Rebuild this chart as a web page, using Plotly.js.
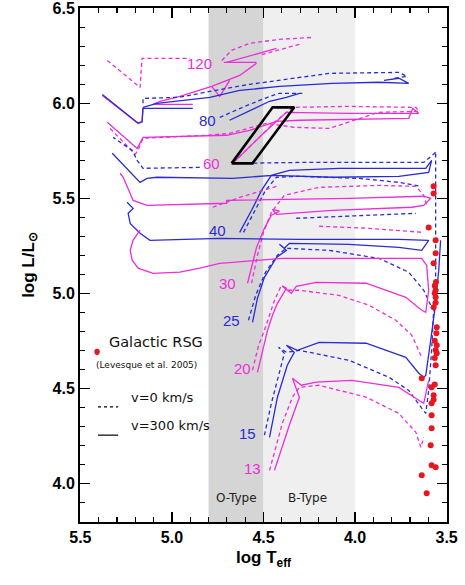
<!DOCTYPE html>
<html><head><meta charset="utf-8">
<script src="https://cdn.plot.ly/plotly-3.0.1.min.js"></script>
<style>html,body{margin:0;padding:0;background:#fff;} #chart{width:465px;height:585px;}</style>
</head><body><div id="chart"></div>
<script>
// ---- evolutionary tracks (log Teff, log L/Lsun); v0 = non-rotating (dashed), v300 = rotating (solid)
const T120v0 = [5.353,5.174,5.163,4.902,null,4.728,4.674,4.576,4.413,4.234,null,4.304,4.522];
const L120v0 = [6.226,6.084,6.237,6.237,null,6.226,6.279,6.316,6.337,6.347,null,6.311,6.253];
const T120v300 = [4.701,4.565,4.429,null,4.538,4.717,null,4.538,4.630,4.783,4.957,5.065,5.103,4.886,null,4.783,4.739,4.685,null,5.380,5.185,5.163,5.158];
const L120v300 = [6.216,6.253,6.289,null,6.216,6.216,null,6.211,6.147,6.089,6.037,6.011,5.995,5.995,null,6.089,6.037,6.121,null,6.042,5.895,5.9,5.979];

const T85v0 = [4.739,4.603,4.478,4.413,4.288,null,5.158,5.158,4.957,4.793,4.576,4.304,4.141,3.761,3.717,3.788];
const L85v0 = [5.926,5.984,6.032,6.053,6.053,null,6.0,6.026,6.032,6.063,6.1,6.137,6.158,6.163,6.142,6.132];
const T85v300 = [4.685,4.576,4.467,4.375,4.304,null,5.158,5.082,4.793,4.630,4.413,4.125,3.870,3.707,3.761,3.842,null,5.158,4.886,null,5.380,5.185,5.163,5.158];
const L85v300 = [5.911,5.963,6.011,6.032,6.053,null,5.979,6.0,6.032,6.068,6.089,6.105,6.111,6.105,6.132,6.121,null,5.974,5.974,null,6.047,5.895,5.905,5.974];

const T60v0 = [4.663,4.549,4.440,4.342,4.033,3.668,3.652,3.870,4.141,4.332,4.484,4.685,4.810,5.158,5.185,5.201,5.337];
const L60v0 = [5.689,5.795,5.900,5.979,5.984,5.979,5.958,5.953,5.868,5.874,5.895,5.842,5.832,5.816,5.753,5.732,5.868];
const T60v300 = [4.652,4.511,4.375,4.033,3.652,3.685,3.707,4.033,4.304,4.429,4.576,4.701,5.158,5.190,5.353];
const L60v300 = [5.700,5.832,5.953,5.947,5.947,5.974,5.921,5.916,5.911,5.905,5.858,5.832,5.821,5.763,5.9];

const T40v0 = [4.609,4.543,4.489,4.429,4.304,3.978,3.761,3.636,null,3.560,3.625,3.870,4.304,4.668,null,4.848,5.158,5.190,5.217,5.321,null,4.321,4.087,3.870,3.668];
const L40v0 = [5.321,5.447,5.542,5.611,5.616,5.605,5.584,5.563,null,5.742,5.689,5.689,5.689,5.684,null,5.663,5.658,5.7,5.753,5.821,null,5.395,5.405,5.411,5.421];
const T40v300 = [4.630,4.565,4.511,4.457,4.359,4.087,3.761,3.614,3.582,3.598,3.761,4.125,4.451,4.668,5.082,5.136,5.174,5.326];
const L40v300 = [5.321,5.437,5.542,5.621,5.647,5.658,5.658,5.658,5.7,5.637,5.616,5.611,5.621,5.605,5.611,5.605,5.584,5.737];

const T30v0 = [4.565,4.533,4.500,4.457,4.386,4.196,3.870,3.668,3.625,3.609,null,4.777,4.630,4.484,4.413,null,4.196,3.924,3.636];
const L30v0 = [5.053,5.2,5.321,5.426,5.516,5.558,5.568,5.563,5.516,5.463,null,5.453,5.505,5.547,5.568,null,5.353,5.342,5.321];
const T30v300 = [4.587,4.538,4.495,4.457,4.413,4.451,4.429,4.125,3.690,3.625,3.587,3.625,4.033,4.701,4.701,5.136,5.212,5.245,5.266,5.283];
const L30v300 = [5.053,5.242,5.342,5.411,5.432,5.442,5.416,5.437,5.453,5.463,5.5,5.511,5.5,5.489,5.474,5.463,5.489,5.558,5.611,5.632];

const T25v0 = [4.582,4.543,4.489,4.424,4.375,4.141,3.870,3.707,3.625,3.587,3.560,3.560,3.560,3.560];
const L25v0 = [4.858,4.989,5.111,5.2,5.237,5.226,5.184,5.111,5.016,4.937,4.963,5.226,5.489,5.737];
const T25v300 = [4.560,4.533,4.495,4.429,4.375,4.413,4.386,4.359,4.033,3.761,3.636,3.598,3.761,4.304,4.739,5.120,5.174,5.228,5.239,5.212,5.245];
const L25v300 = [4.847,4.974,5.084,5.189,5.226,5.258,5.237,5.263,5.258,5.242,5.226,5.279,5.284,5.284,5.289,5.279,5.316,5.368,5.421,5.447,5.479];

const T20v0 = [4.560,4.527,4.495,4.467,4.440,4.402,4.359,4.304,4.087,3.924,3.777,3.690,3.636];
const L20v0 = [4.595,4.726,4.805,4.884,4.963,5.042,5.016,5.016,4.989,4.937,4.858,4.779,4.663];
const T20v300 = [4.533,4.505,4.478,4.451,4.424,4.375,4.397,4.348,4.321,4.212,3.940,3.723,3.636,3.614,3.598,3.609,3.636,4.033,4.397,4.668,4.739,4.848,4.957,5.103,5.185,5.217,5.228,5.212,5.174];
const L20v300 = [4.584,4.7,4.805,4.884,4.947,5.026,5.037,5.0,5.037,5.058,5.053,4.979,4.911,4.9,5.016,5.147,5.184,5.184,5.184,5.163,5.158,5.132,5.111,5.105,5.132,5.174,5.226,5.279,5.332];

const T15v0 = [4.495,4.457,4.413,4.386,4.418,4.375,4.304,4.033,3.815,3.707,3.636,3.614,3.598,3.582,3.571];
const L15v0 = [4.253,4.421,4.584,4.684,4.716,4.689,4.7,4.647,4.558,4.489,4.395,4.368,4.489,4.7,4.911];
const T15v300 = [4.467,4.424,4.370,4.332,4.375,4.315,4.196,3.940,3.723,3.652,3.625,3.614,3.587,3.565,3.543,3.533];
const L15v300 = [4.242,4.453,4.621,4.689,4.726,4.7,4.742,4.737,4.663,4.579,4.558,4.568,4.753,4.911,5.121,5.279];

const T13v0 = [4.467,4.397,4.342,4.304,4.196,3.940,3.761,3.668,3.641,3.625];
const L13v0 = [4.068,4.316,4.453,4.505,4.516,4.453,4.368,4.268,4.189,4.242];
const T13v300 = [4.440,4.359,4.304,4.342,4.293,4.212,4.016,3.761,3.652,3.625,3.598];
const L13v300 = [4.068,4.305,4.453,4.553,4.516,4.532,4.542,4.505,4.437,4.421,4.542];

// ---- Galactic RSG (Levesque et al. 2005)
const rsgT = [3.571,3.571,3.598,3.560,3.560,3.571,3.560,3.565,3.560,3.571,3.554,3.554,3.565,3.554,3.560,3.636,3.582,3.565,3.571,3.571,3.582,3.582,3.582,3.587,3.582,3.560,3.636,3.609,3.560,3.556,3.565,3.558,3.560,3.565];
const rsgL = [5.563,5.526,5.347,5.279,5.211,5.158,5.016,5.0,4.979,4.926,4.821,4.726,4.75,4.684,4.621,4.553,4.505,4.52,4.463,4.44,4.421,4.358,4.289,4.2,4.095,4.084,4.042,3.947,4.95,4.79,5.04,5.06,4.70,4.66];

// ---- box (observed star) and spectral-type bands
const boxT = [4.674,4.56,4.332,4.45,4.674];
const boxL = [5.684,5.684,5.979,5.979,5.684];
const bandNames = ['O-Type','B-Type'];
const bandHot = [4.8,4.5];
const bandCool = [4.5,4.0];

// ---- mass labels
const massLabels = ['120','80','60','40','30','25','20','15','13'];
const massLabelT = [4.848,4.804,4.783,4.750,4.696,4.674,4.614,4.587,4.560];
const massLabelL = [6.211,5.911,5.684,5.332,5.053,4.858,4.605,4.263,4.079];

const BLUE = '#2b2bd4', MAG = '#ec2ed8';
const tracks = [
  [T120v0,L120v0,MAG,true],[T120v300,L120v300,MAG,false],
  [T85v0,L85v0,BLUE,true],[T85v300,L85v300,BLUE,false],
  [T60v0,L60v0,MAG,true],[T60v300,L60v300,MAG,false],
  [T40v0,L40v0,BLUE,true],[T40v300,L40v300,BLUE,false],
  [T30v0,L30v0,MAG,true],[T30v300,L30v300,MAG,false],
  [T25v0,L25v0,BLUE,true],[T25v300,L25v300,BLUE,false],
  [T20v0,L20v0,MAG,true],[T20v300,L20v300,MAG,false],
  [T15v0,L15v0,BLUE,true],[T15v300,L15v300,BLUE,false],
  [T13v0,L13v0,MAG,true],[T13v300,L13v300,MAG,false]
];
const traces = tracks.map(t => ({
  type:'scatter', mode:'lines', x:t[0], y:t[1], connectgaps:false,
  line:{color:t[2], width:1.3, dash: t[3] ? '4px,3px' : 'solid'},
  hoverinfo:'skip', showlegend:false
}));
traces.push({type:'scatter', mode:'markers', x:rsgT, y:rsgL,
  marker:{color:'#e8161e', size:6}, hoverinfo:'skip', showlegend:false});
traces.push({type:'scatter', mode:'lines', x:boxT, y:boxL,
  line:{color:'#000', width:2.6}, hoverinfo:'skip', showlegend:false});

const shapes = [
  {type:'rect', xref:'x', yref:'paper', x0:bandHot[0], x1:bandCool[0], y0:0, y1:1, fillcolor:'#d5d5d5', line:{width:0}, layer:'below'},
  {type:'rect', xref:'x', yref:'paper', x0:bandHot[1], x1:bandCool[1], y0:0, y1:1, fillcolor:'#efefef', line:{width:0}, layer:'below'},
  {type:'line', xref:'paper', yref:'paper', x0:0.049, x1:0.104, y0:0.224, y1:0.224, line:{color:'#000', width:1.2, dash:'3px,3px'}},
  {type:'line', xref:'paper', yref:'paper', x0:0.049, x1:0.104, y0:0.169, y1:0.169, line:{color:'#000', width:1.2}},
  {type:'circle', xref:'paper', yref:'paper', x0:0.039, x1:0.054, y0:0.325, y1:0.337, fillcolor:'#e8161e', line:{width:0}}
];

const annotations = massLabels.map((m,i) => ({
  x:massLabelT[i], y:massLabelL[i], text:m, showarrow:false,
  font:{family:'Liberation Sans, Arial, sans-serif', size:15, color: (i%2===0) ? MAG : BLUE}
}));
annotations.push({x:(bandHot[0]+bandCool[0])/2, y:3.921, text:bandNames[0], showarrow:false, font:{family:'DejaVu Sans', size:12, color:'#222'}});
annotations.push({x:(bandHot[1]+bandCool[1])/2 + 0.01, y:3.921, text:bandNames[1], showarrow:false, font:{family:'DejaVu Sans', size:12, color:'#222'}});
annotations.push({xref:'paper', yref:'paper', x:0.074, y:0.331, xanchor:'left', text:'Galactic RSG', showarrow:false, font:{family:'DejaVu Sans', size:14.5, color:'#111'}});
annotations.push({xref:'paper', yref:'paper', x:0.038, y:0.292, xanchor:'left', text:'(Levesque et al. 2005)', showarrow:false, font:{family:'DejaVu Sans', size:9, color:'#111'}});
annotations.push({xref:'paper', yref:'paper', x:0.134, y:0.224, xanchor:'left', text:'v=0 km/s', showarrow:false, font:{family:'DejaVu Sans', size:13, color:'#111'}});
annotations.push({xref:'paper', yref:'paper', x:0.134, y:0.169, xanchor:'left', text:'v=300 km/s', showarrow:false, font:{family:'DejaVu Sans', size:13, color:'#111'}});

const axisCommon = {
  showline:true, linecolor:'#000', linewidth:2, mirror:'allticks',
  ticks:'inside', ticklen:10, tickwidth:1.5, tickcolor:'#000',
  showgrid:false, zeroline:false, tickformat:'.1f', ticklabeloverflow:'allow',
  tickfont:{family:'Liberation Sans, Arial, sans-serif', size:16, weight:'bold', color:'#000'},
  minor:{dtick:0.1, ticks:'inside', ticklen:5, tickwidth:1.2, tickcolor:'#000', showgrid:false}
};
const layout = {
  width:465, height:585,
  margin:{l:80, r:18, t:8, b:63},
  paper_bgcolor:'#fff', plot_bgcolor:'#fff',
  xaxis: Object.assign({}, axisCommon, {range:[5.502,3.498], tick0:4.0, dtick:0.5,
    minor:Object.assign({}, axisCommon.minor, {tick0:4.0}),
    title:{text:'log T<sub>eff</sub>', standoff:6, font:{family:'Liberation Sans, Arial, sans-serif', size:17, weight:'bold', color:'#000'}}}),
  yaxis: Object.assign({}, axisCommon, {range:[3.796,6.502], tick0:4.0, dtick:0.5,
    minor:Object.assign({}, axisCommon.minor, {tick0:4.0}),
    title:{text:'log L/L<sub>⊙</sub>', standoff:14, font:{family:'Liberation Sans, Arial, sans-serif', size:17, weight:'bold', color:'#000'}}}),
  shapes: shapes, annotations: annotations, showlegend:false
};
Plotly.newPlot('chart', traces, layout, {displayModeBar:false, staticPlot:true});
</script>
</body></html>
